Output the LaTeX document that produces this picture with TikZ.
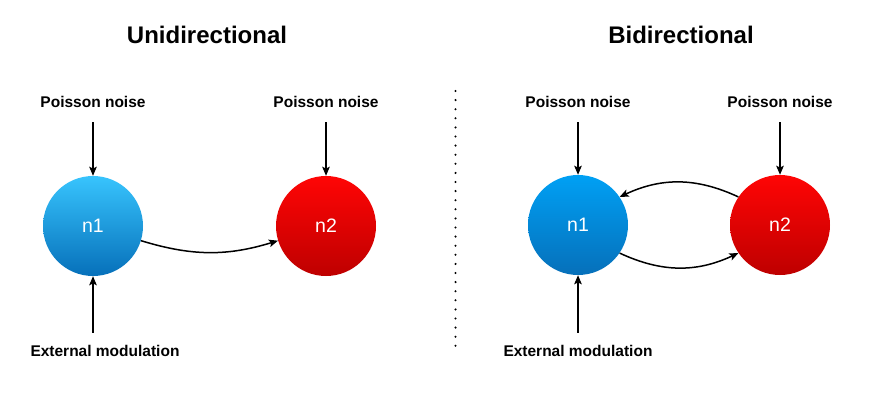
\documentclass[tikz,border=0pt]{standalone}
\usepackage{fontspec}
\setmainfont{Liberation Sans}
\usetikzlibrary{arrows.meta,calc}
\definecolor{upblue}{HTML}{38C4FD}
\definecolor{upbluetwo}{HTML}{00A0F4}
\definecolor{lowblue}{HTML}{0670BA}
\definecolor{upred}{HTML}{FF0505}
\definecolor{lowred}{HTML}{BE0000}
\begin{document}
\begin{tikzpicture}[x=1pt,y=-1pt,line cap=butt,line join=miter,
>={Stealth[length=9pt,width=7.5pt,inset=1.8pt]}]
\tikzset{neuron/.style={circle,minimum size=100pt,inner sep=0pt,text=white,
font=\fontsize{19.5}{21}\selectfont},
lbl/.style={inner sep=0pt,anchor=base,font=\bfseries\fontsize{15.5}{18}\selectfont},
ttl/.style={inner sep=0pt,anchor=base,font=\bfseries\fontsize{24}{28}\selectfont},
wire/.style={->,line width=1.5pt}
}
\useasboundingbox (0,0) rectangle (873,396);
% left half: one way coupling
\node[ttl] (tuni) at (207,44) {Unidirectional};
\node[neuron,top color=upblue,bottom color=lowblue] (un1) at (93,226) {n1};
\node[neuron,top color=upred,bottom color=lowred] (un2) at (326,226) {n2};
\node[lbl] (upn1) at (93,107) {Poisson noise};
\node[lbl] (upn2) at (326,107) {Poisson noise};
\node[lbl] (uext) at (105,356) {External modulation};
\draw[wire] ($(upn1.south)+(0,15)$) -- (un1);
\draw[wire] ($(upn2.south)+(0,15)$) -- (un2);
\draw[wire] ($(uext.north -| un1)+(0,-12)$) -- (un1);
\draw[wire] (un1) to[bend right=17] (un2);
% separator
\coordinate (sepa) at (455.5,91);
\coordinate (sepb) at (455.5,354);
\draw[line width=2.3pt,line cap=round,dash pattern=on 0pt off 9.1pt] (sepa) -- (sepb);
% right half: two way coupling
\node[ttl] (tbi) at (681,44) {Bidirectional};
\node[neuron,top color=upbluetwo,bottom color=lowblue] (bn1) at (578,225) {n1};
\node[neuron,top color=upred,bottom color=lowred] (bn2) at (780,225) {n2};
\node[lbl] (bpn1) at (578,107) {Poisson noise};
\node[lbl] (bpn2) at (780,107) {Poisson noise};
\node[lbl] (bext) at (578,356) {External modulation};
\draw[wire] ($(bpn1.south)+(0,15)$) -- (bn1);
\draw[wire] ($(bpn2.south)+(0,15)$) -- (bn2);
\draw[wire] ($(bext.north)+(0,-12)$) -- (bn1);
\draw[wire] (bn2.146) to[bend right=25] (bn1.34);
\draw[wire] (bn1.-34) to[bend right=25] (bn2.-146);
\end{tikzpicture}
\end{document}
